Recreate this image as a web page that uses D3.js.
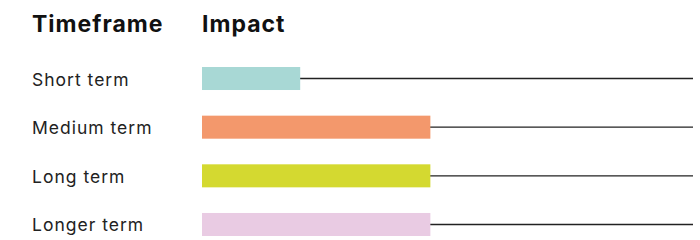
<!DOCTYPE html>
<html>
<head>
<meta charset="utf-8">
<script src="https://cdn.jsdelivr.net/npm/d3@7"></script>
<style>
  body { margin: 0; background: #fff; }
  svg { display: block; font-family: Inter, "Open Sans", sans-serif; }
</style>
</head>
<body>
<div id="chart"></div>
<script>
// data
var timeframes = ["Short term", "Medium term", "Long term", "Longer term"];
var impact = [43, 100, 100, 100];
var colors = ["#a8d8d5", "#f3986c", "#d4d930", "#e9cbe3"];
var headers = ["Timeframe", "Impact"];

var width = 700;
var height = 240;

var svg = d3.select("#chart")
    .append("svg")
    .attr("width", width)
    .attr("height", height);

var x = d3.scaleLinear()
    .domain([0, 215])
    .range([202, 693]);

var y = d3.scaleBand()
    .domain(timeframes)
    .range([67, 236])
    .paddingInner(0.527);

// headers
svg.selectAll(".header")
    .data(headers)
    .enter()
    .append("text")
    .attr("class", "header")
    .attr("x", function(d, i) { return i == 0 ? 32 : x(0); })
    .attr("y", 32)
    .style("font-size", "23px")
    .style("font-weight", 700)
    .style("letter-spacing", "1px")
    .style("fill", "#111")
    .text(function(d) { return d; });

var rows = svg.selectAll(".row")
    .data(timeframes)
    .enter()
    .append("g")
    .attr("class", "row");

// leader line behind each bar
rows.append("line")
    .attr("x1", x(0))
    .attr("x2", x.range()[1])
    .attr("y1", function(d) { return y(d) + y.bandwidth() / 2; })
    .attr("y2", function(d) { return y(d) + y.bandwidth() / 2; })
    .style("stroke", "#222")
    .style("stroke-width", 1.3);

rows.append("rect")
    .attr("x", x(0))
    .attr("y", function(d) { return y(d); })
    .attr("width", function(d, i) { return x(impact[i]) - x(0); })
    .attr("height", y.bandwidth())
    .style("fill", function(d, i) { return colors[i]; });

rows.append("text")
    .attr("x", 32)
    .attr("y", function(d) { return y(d) + y.bandwidth() / 2; })
    .attr("dy", "0.4em")
    .style("font-size", "17.5px")
    .style("letter-spacing", "1px")
    .style("fill", "#222")
    .text(function(d) { return d; });
</script>
</body>
</html>
